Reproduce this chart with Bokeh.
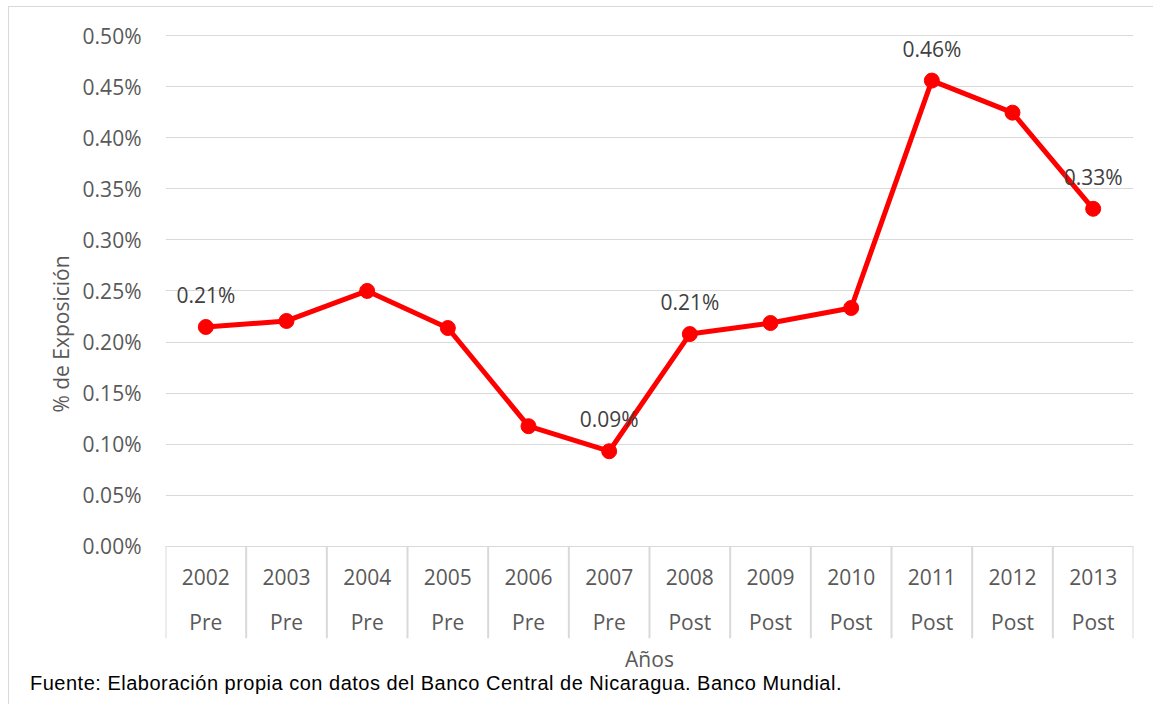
from bokeh.plotting import figure
from bokeh.models import (ColumnDataSource, Range1d, FixedTicker, PrintfTickFormatter,
                          LinearAxis, Div)
from bokeh.layouts import column
from bokeh.embed import file_html
from bokeh.resources import INLINE
from bokeh.core.properties import value

# ---- data ----
years = ["2002", "2003", "2004", "2005", "2006", "2007",
         "2008", "2009", "2010", "2011", "2012", "2013"]
periods = ["Pre", "Pre", "Pre", "Pre", "Pre", "Pre",
           "Post", "Post", "Post", "Post", "Post", "Post"]
exposure = [0.2147, 0.2206, 0.2500, 0.2137, 0.1176, 0.0931,
            0.2078, 0.2186, 0.2333, 0.4559, 0.4245, 0.3304]
labeled_years = ["2002", "2007", "2008", "2011", "2013"]
y_ticks = [0.0, 0.05, 0.10, 0.15, 0.20, 0.25, 0.30, 0.35, 0.40, 0.45, 0.50]

FONT = "Open Sans"
GRID = "#d9d9d9"
TXT = "#595959"

idx = list(range(len(years)))
src = ColumnDataSource(dict(x=idx, y=exposure, year=years, period=periods,
                            zero=[0.0] * len(years)))
lab_i = [years.index(yv) for yv in labeled_years]
lab_src = ColumnDataSource(dict(x=lab_i, y=[exposure[i] for i in lab_i],
                                t=["%.2f%%" % exposure[i] for i in lab_i]))

y_start = -92 / 1020.0
y_end = 0.5 + 6 / 1020.0

p = figure(width=1144, height=668, output_backend="svg", toolbar_location=None,
           x_range=Range1d(-0.5, len(years) - 0.5), y_range=Range1d(y_start, y_end),
           min_border_left=156, min_border_right=20, min_border_top=22, min_border_bottom=34,
           x_axis_location=None)
p.outline_line_color = None
p.background_fill_color = "white"
p.border_fill_color = "white"

# y axis
yax = p.yaxis[0]
yax.ticker = FixedTicker(ticks=y_ticks)
yax.formatter = PrintfTickFormatter(format="%.2f%%")
yax.axis_line_color = None
yax.major_tick_line_color = None
yax.minor_tick_line_color = None
yax.major_tick_out = 0
yax.major_tick_in = 0
yax.major_label_standoff = 24
yax.major_label_text_font = FONT
yax.major_label_text_font_size = "21px"
yax.major_label_text_color = TXT
yax.axis_label = "% de Exposición"
yax.axis_label_text_font = FONT
yax.axis_label_text_font_size = "21px"
yax.axis_label_text_font_style = "normal"
yax.axis_label_text_color = TXT
yax.axis_label_standoff = 5

p.ygrid.ticker = FixedTicker(ticks=y_ticks)
p.ygrid.grid_line_color = GRID
p.ygrid.grid_line_width = 1
p.xgrid.grid_line_color = None

# bottom axis carrying only the title
xax = LinearAxis(ticker=FixedTicker(ticks=[]), axis_label="Años")
xax.axis_line_color = None
xax.major_tick_line_color = None
xax.minor_tick_line_color = None
xax.major_tick_out = 0
xax.major_label_standoff = 0
xax.axis_label_standoff = 6
xax.axis_label_text_font = FONT
xax.axis_label_text_font_size = "21px"
xax.axis_label_text_font_style = "normal"
xax.axis_label_text_color = TXT
p.add_layout(xax, "below")

# category table separators
sep_x = [i - 0.5 for i in range(len(years) + 1)]
p.segment(x0=sep_x, y0=[0.0] * len(sep_x), x1=sep_x, y1=[y_start] * len(sep_x),
          line_color=GRID, line_width=2)

# category labels
p.text(x="x", y="zero", text="year", source=src, y_offset=31,
       text_align="center", text_baseline="middle", text_font=value(FONT),
       text_font_size="21px", text_color=TXT)
p.text(x="x", y="zero", text="period", source=src, y_offset=76,
       text_align="center", text_baseline="middle", text_font=value(FONT),
       text_font_size="21px", text_color=TXT)

# series
p.line(x="x", y="y", source=src, line_color="#ff0000", line_width=5)
p.scatter(x="x", y="y", source=src, size=15, fill_color="#ff0000", line_color="#ff0000")

# data labels
p.text(x="x", y="y", text="t", source=lab_src, y_offset=-32,
       text_align="center", text_baseline="middle", text_font=value(FONT),
       text_font_size="21px", text_color="#404040")

footer = Div(text='<div style="position:relative; top:-7px">Fuente: Elaboración propia con datos del Banco Central de Nicaragua. Banco Mundial.</div>',
             width=1100, height=25,
             styles={"font-family": "'Liberation Sans', Arial, sans-serif", "font-size": "20px",
                     "letter-spacing": "0.5px",
                     "color": "#000000", "padding-left": "16px", "line-height": "20px",
                     "overflow": "visible"})

layout = column(p, footer, spacing=0,
                styles={"margin-left": "8px", "margin-top": "6px",
                        "border-left": "1px solid #d9d9d9", "border-top": "1px solid #d9d9d9",
                        "background-color": "white"})

open("out.html", "w").write(file_html(layout, INLINE))
